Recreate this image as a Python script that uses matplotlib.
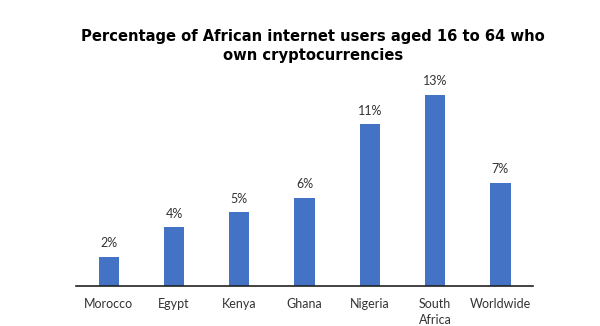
import matplotlib.pyplot as plt

countries = ['Morocco', 'Egypt', 'Kenya', 'Ghana', 'Nigeria', 'South\nAfrica', 'Worldwide']
share = [2, 4, 5, 6, 11, 13, 7]
title = 'Percentage of African internet users aged 16 to 64 who\nown cryptocurrencies'

fig = plt.figure(figsize=(6, 3.26), dpi=100)
ax = fig.add_axes([0.1267, 0.1227, 0.7617, 0.6313])

pos = range(len(countries))
ax.bar(pos, share, width=0.31, color='#4472C4')
for x, v in zip(pos, share):
    ax.annotate(f'{v}%', (x, v), xytext=(0, 5.5), textcoords='offset points',
                ha='center', va='bottom', fontsize=9, family='Lato', color='#333333')

ax.set_xlim(-0.5, 6.5)
ax.set_ylim(0, 14)
ax.set_xticks(list(pos))
ax.set_xticklabels(countries, fontsize=9, family='Lato', color='#333333', linespacing=1.4)
ax.tick_params(axis='x', length=0, pad=9)
ax.set_yticks([])
for s in ['top', 'right', 'left']:
    ax.spines[s].set_visible(False)
ax.spines['bottom'].set_color('#222222')
ax.spines['bottom'].set_linewidth(1.2)

fig.text(0.522, 0.859, title, ha='center', va='center', fontsize=10.6,
         fontweight='bold', family='DejaVu Sans', linespacing=1.35)

fig.savefig('out.png', dpi=100)
